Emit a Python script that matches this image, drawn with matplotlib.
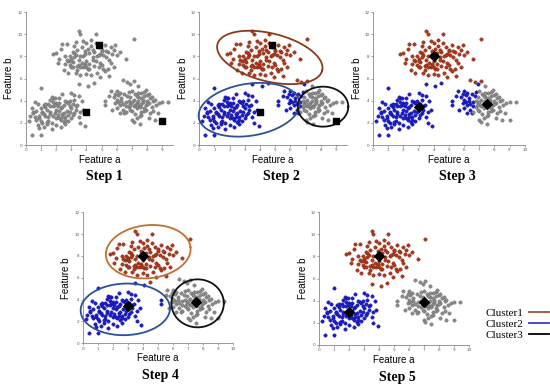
import numpy as np
import matplotlib
matplotlib.use("Agg")
import matplotlib.pyplot as plt
from matplotlib.lines import Line2D

# points (Feature a, Feature b)
top_x = [3.5, 3.6, 4.6, 7.1, 2.4, 2.0, 1.8, 6.6, 5.9, 5.6,
         3.2, 3.4, 3.7, 3.9, 4.1, 4.3, 4.5, 4.8, 5.0, 5.2,
         5.4, 5.1, 4.9, 4.7, 4.4, 4.2, 3.8, 3.3, 3.0, 2.8,
         2.6, 2.9, 3.1, 3.5, 3.7, 4.0, 4.2, 4.6, 4.9, 5.3,
         5.5, 5.7, 5.0, 4.4, 3.9, 3.6, 3.2, 2.9, 2.7, 3.0,
         3.4, 3.8, 4.1, 4.5, 4.8, 5.2, 5.8, 5.6, 3.3, 3.6,
         4.0, 4.3, 2.5, 2.8, 3.1, 3.5, 3.9, 4.2, 4.7, 5.1,
         3.5, 4.1, 4.5, 3.0, 2.2, 6.2, 5.4, 4.0, 3.8, 3.2,
         2.3, 2.7, 3.3, 3.6, 4.3, 4.6, 5.0, 5.5, 6.0, 3.9,
         4.8, 2.6, 3.4, 4.4, 5.3, 3.1, 4.0, 5.8, 2.1, 4.9]
top_y = [10.3, 10.0, 10.0, 9.6, 9.1, 8.3, 8.2, 7.8, 9.0, 8.8,
         8.9, 8.6, 8.8, 8.5, 8.7, 8.9, 8.4, 8.8, 8.6, 9.0,
         8.4, 8.1, 8.2, 8.0, 7.9, 8.3, 8.0, 8.1, 7.8, 7.6,
         7.3, 7.2, 7.5, 7.7, 7.4, 7.6, 7.3, 7.6, 7.4, 7.9,
         7.7, 8.2, 8.5, 8.6, 8.2, 8.0, 7.9, 8.0, 7.7, 7.0,
         6.8, 7.0, 6.9, 7.1, 7.0, 6.7, 8.6, 7.4, 6.5, 6.3,
         6.4, 6.3, 6.8, 6.5, 7.0, 7.2, 7.3, 6.9, 6.5, 6.9,
         5.5, 5.3, 5.6, 7.6, 7.8, 8.4, 6.9, 9.2, 9.4, 8.3,
         8.7, 9.1, 9.3, 7.0, 9.5, 9.2, 7.2, 6.2, 8.1, 7.1,
         8.1, 8.0, 7.1, 7.7, 8.5, 8.4, 7.0, 7.0, 7.4, 6.1]

left_x = [0.2, 0.4, 1.0, 1.0, 0.8, 1.7, 1.2, 0.8, 3.9, 3.8,
          3.0, 2.4, 3.5, 0.5, 0.6, 0.9, 1.1, 1.3, 1.5, 1.6,
          1.8, 2.0, 2.1, 2.3, 2.5, 2.7, 2.9, 3.1, 3.3, 3.6,
          1.4, 1.6, 1.9, 2.2, 2.4, 2.6, 2.8, 3.0, 3.2, 0.7,
          0.9, 1.2, 1.5, 1.7, 2.0, 2.3, 2.5, 2.8, 1.8, 2.1,
          1.3, 1.0, 0.6, 2.6, 2.9, 3.2, 1.9, 2.2, 1.5, 1.7,
          2.4, 2.7, 3.4, 0.9, 1.4, 2.0, 2.3, 2.6, 3.0, 1.1,
          0.3, 1.8, 2.2, 2.5, 3.1, 3.6, 1.6, 1.2,
          0.4, 0.7, 1.1, 1.3, 1.9, 2.2, 2.8, 3.3, 3.5, 3.7,
          1.6, 2.0, 2.6, 0.5, 1.4, 2.9, 3.2, 1.0, 1.8, 2.4]
left_y = [2.2, 0.9, 0.9, 5.1, 3.7, 1.4, 1.6, 1.8, 1.7, 3.2,
          4.7, 4.6, 4.4, 2.9, 2.5, 2.4, 3.0, 2.6, 2.5, 4.1,
          4.2, 3.8, 3.5, 3.3, 3.6, 3.9, 4.0, 3.7, 3.5, 3.0,
          3.2, 3.0, 2.9, 3.1, 2.8, 2.5, 2.7, 3.3, 2.9, 3.1,
          2.6, 2.8, 2.2, 2.0, 2.4, 2.3, 2.1, 2.2, 2.6, 2.7,
          3.4, 3.3, 3.9, 4.0, 3.5, 4.1, 3.6, 3.8, 3.7, 4.3,
          3.4, 3.1, 3.6, 1.5, 1.9, 1.8, 1.6, 1.9, 2.4, 2.0,
          2.6, 3.5, 4.2, 2.9, 2.7, 2.0, 2.8, 3.6,
          3.3, 2.3, 2.9, 3.7, 4.2, 2.4, 3.8, 3.2, 2.5, 4.0,
          3.5, 3.2, 2.3, 3.0, 2.1, 3.0, 4.5, 2.2, 3.9, 2.5]

right_x = [5.2, 5.2, 9.4, 9.0, 8.5, 7.5, 6.4, 6.7, 7.1, 6.9,
           7.4, 5.6, 6.0, 5.5, 5.8, 6.1, 6.3, 6.5, 6.8, 7.0,
           7.2, 7.4, 7.6, 7.8, 8.0, 8.2, 8.4, 5.9, 6.2, 6.6,
           6.9, 7.1, 7.3, 7.5, 7.7, 7.9, 8.1, 8.3, 6.0, 6.4,
           6.8, 7.0, 7.3, 7.6, 7.9, 8.2, 8.6, 6.2, 6.6, 7.2,
           7.5, 7.8, 8.0, 6.9, 7.1, 7.4, 7.7, 5.7, 6.3, 6.7,
           7.0, 7.3, 7.6, 8.1, 8.4, 7.1, 6.9, 7.6, 8.8, 6.5,
           7.8, 7.3, 6.1, 5.9,
           6.0, 6.4, 6.8, 7.2, 7.6, 8.0, 8.3, 8.7, 9.0, 6.6,
           7.0, 7.4, 7.8, 8.1, 6.2, 7.5, 7.9, 6.9, 8.5, 7.3]
right_y = [4.0, 3.6, 3.9, 2.3, 2.3, 1.9, 5.9, 5.7, 5.8, 5.5,
           5.3, 4.9, 4.9, 4.4, 4.3, 4.5, 4.2, 4.6, 4.8, 4.9,
           4.6, 4.3, 4.7, 4.4, 4.5, 4.2, 4.0, 3.8, 3.6, 3.9,
           3.7, 4.1, 3.8, 3.5, 3.9, 3.6, 3.8, 3.4, 3.3, 3.2,
           3.4, 3.1, 3.3, 3.0, 3.2, 2.9, 3.6, 2.9, 3.0, 2.8,
           3.4, 3.1, 3.7, 4.3, 3.5, 4.0, 4.1, 3.2, 4.0, 4.4,
           2.3, 2.4, 2.7, 2.4, 3.1, 2.1, 3.6, 3.7, 3.8, 2.9,
           4.8, 4.4, 3.9, 4.6,
           4.1, 3.7, 4.0, 3.6, 4.2, 4.0, 4.3, 2.9, 3.9, 3.5,
           3.9, 4.7, 3.3, 4.6, 4.7, 2.6, 5.0, 3.2, 4.1, 3.6]

# centroids shown in each step
cent_init = [(4.8, 9.0), (4.0, 3.0), (9.0, 2.2)]
cent_step3 = [(4.0, 8.0), (3.0, 3.4), (7.5, 3.7)]
cent_step4 = [(4.0, 8.0), (3.0, 3.4), (7.5, 3.8)]
cent_step5 = [(4.0, 8.0), (2.0, 3.0), (7.0, 3.9)]

step_names = ["Step 1", "Step 2", "Step 3", "Step 4", "Step 5"]
legend_labels = ["Cluster1", "Cluster2", "Cluster3"]

X = np.array(top_x + left_x + right_x)
Y = np.array(top_y + left_y + right_y)

pt_face = ["#b3361c", "#1c1cd0", "#8a8a8a"]
pt_edge = ["#6e2a12", "#10108a", "#6a6a6a"]
line_cols = ["#a0522d", "#3a3acc", "#000000"]

W, H = 550, 387
fig = plt.figure(figsize=(W / 100, H / 100), dpi=100)


def assign(cents):
    c = np.array(cents)
    d = (X[:, None] - c[None, :, 0]) ** 2 + (Y[:, None] - c[None, :, 1]) ** 2
    return d.argmin(axis=1)


def make_ax(l, r, t, b, xmax, xticks):
    ax = fig.add_axes([l / W, 1 - b / H, (r - l) / W, (b - t) / H])
    ax.set_xlim(0, xmax)
    ax.set_ylim(0, 12)
    ax.set_xticks(xticks)
    ax.set_yticks(range(0, 13, 2))
    ax.tick_params(labelsize=3, length=1.5, width=0.4, pad=1, colors="#555555")
    for s in ["top", "right"]:
        ax.spines[s].set_visible(False)
    for s in ["left", "bottom"]:
        ax.spines[s].set_color("#888888")
        ax.spines[s].set_linewidth(0.6)
    ax.set_xlabel("Feature a", fontsize=7, family="Liberation Sans", labelpad=1.5)
    ax.set_ylabel("Feature b", fontsize=7, family="Liberation Sans", labelpad=2)
    ax.sx = (r - l) / xmax
    ax.sy = (b - t) / 12
    return ax


def draw_points(ax, labels):
    if labels is None:
        ax.scatter(X, Y, s=6, c="#8a8a8a", edgecolors="#6a6a6a", linewidths=0.3, zorder=2)
        return
    for k in range(3):
        m = labels == k
        ax.scatter(X[m], Y[m], s=6, c=pt_face[k], edgecolors=pt_edge[k], linewidths=0.3, zorder=2)


def draw_cents(ax, cents, marker, size):
    c = np.array(cents)
    ax.scatter(c[:, 0], c[:, 1], marker=marker, s=size, c="black", zorder=4)


def ellipse(ax, cx, cy, a, b, ang, color):
    # a, b in pixels, angle in screen degrees
    t = np.linspace(0, 2 * np.pi, 200)
    th = np.deg2rad(ang)
    px = a * np.cos(t) * np.cos(th) - b * np.sin(t) * np.sin(th)
    py = a * np.cos(t) * np.sin(th) + b * np.sin(t) * np.cos(th)
    ax.plot(cx + px / ax.sx, cy + py / ax.sy, color=color, lw=1.3, clip_on=False, zorder=3)


ticks9 = range(0, 10)
ticks10 = range(0, 11)

ax1 = make_ax(25.7, 173, 12, 145, 9.7, ticks9)
ax2 = make_ax(199.3, 346.7, 12, 145, 9.7, ticks9)
ax3 = make_ax(373, 524.7, 12, 145, 10, ticks10)
ax4 = make_ax(82.7, 233.3, 212.3, 343.3, 10, ticks10)
ax5 = make_ax(319, 469, 212, 345, 10, ticks10)

# step 1: raw data + initial centroids
draw_points(ax1, None)
draw_cents(ax1, cent_init, "s", 14)

# step 2: assign to initial centroids
lab2 = assign(cent_init)
draw_points(ax2, lab2)
draw_cents(ax2, cent_init, "s", 14)
ellipse(ax2, 4.64, 7.9, 54, 24, -14, "#8b3a1a")
ellipse(ax2, 3.28, 3.18, 51, 26, 9, "#2e4f9a")
ellipse(ax2, 8.14, 3.46, 25.3, 20, 0, "#111111")

# step 3: move centroids
draw_points(ax3, lab2)
draw_cents(ax3, cent_step3, "D", 24)

# step 4: reassign
lab4 = assign(cent_step3)
draw_points(ax4, lab4)
draw_cents(ax4, cent_step4, "D", 24)
ellipse(ax4, 4.35, 8.39, 42.5, 26.5, 6, "#c07030")
ellipse(ax4, 2.83, 3.11, 44.7, 25.8, 2, "#2e4f9a")
ellipse(ax4, 7.63, 3.66, 26.2, 24, 0, "#111111")

# step 5: final
lab5 = assign(cent_step5)
draw_points(ax5, lab5)
draw_cents(ax5, cent_step5, "D", 24)

title_pos = [(104, 177), (281, 177), (457, 177), (160, 375), (397, 377)]
for name, (tx, ty) in zip(step_names, title_pos):
    fig.text(tx / W, 1 - ty / H, name, ha="center", va="center", fontsize=10,
             family="Liberation Serif", fontweight="bold")

handles = [Line2D([0], [0], color=c, lw=1.3) for c in line_cols]
fig.legend(handles, legend_labels, loc="upper right", bbox_to_anchor=(549 / W, 1 - 308 / H),
           frameon=False, markerfirst=False, handlelength=1.8, handletextpad=0.5,
           labelspacing=0.12, borderpad=0, borderaxespad=0,
           prop={"family": "Liberation Serif", "size": 8})

fig.savefig("out.png", dpi=100)
